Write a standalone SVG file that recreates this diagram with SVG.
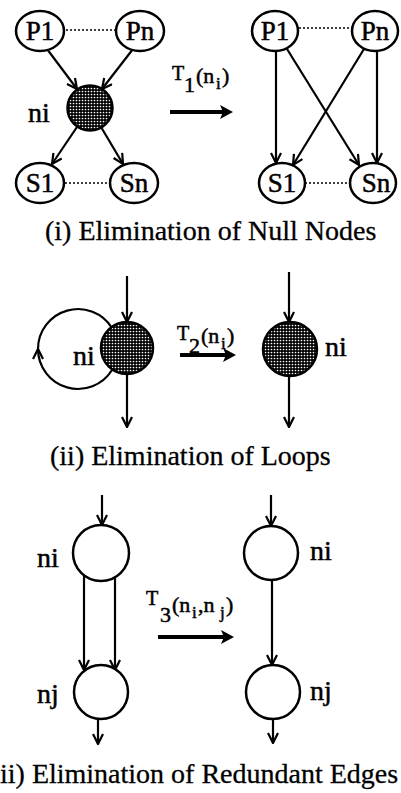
<svg xmlns="http://www.w3.org/2000/svg" width="401" height="793" viewBox="0 0 401 793">
<style>
  text { font-family: "Liberation Serif", "Times New Roman", serif; fill: #000; stroke: #000; stroke-width: 0.5; }
  .lbl { font-size: 27px; text-anchor: middle; }
  .nl { font-size: 28px; }
  .cap { font-size: 28px; stroke-width: 0.3; }
  .tb { font-size: 22px; }
  .tt { font-size: 20px; }
  .ts { font-size: 17px; }
  .node { fill: #fff; stroke: #000; stroke-width: 2.5; }
  .shade { fill: url(#dots); stroke: #000; stroke-width: 2.5; }
  .edge { fill: none; stroke: #000; stroke-width: 2.2; marker-end: url(#arr); }
  .plain { fill: none; stroke: #000; stroke-width: 2.2; }
  .dot { fill: none; stroke: #000; stroke-width: 1.5; stroke-dasharray: 2 2; }
  .big { fill: none; stroke: #000; stroke-width: 4; }
</style>
<defs>
  <pattern id="dots" width="3" height="3" patternUnits="userSpaceOnUse">
    <rect width="3" height="3" fill="#000"/>
    <circle cx="1.5" cy="1.5" r="0.85" fill="#fff"/>
  </pattern>
  <marker id="arr" viewBox="0 0 12 12" refX="11" refY="6" markerWidth="12" markerHeight="12" markerUnits="userSpaceOnUse" orient="auto">
    <path d="M1,1 L11,6 L1,11" fill="none" stroke="#000" stroke-width="2.2"/>
  </marker>
</defs>

<g id="connectors">
  <!-- part i left -->
  <line class="dot" x1="66" y1="30" x2="115" y2="30"/>
  <line class="dot" x1="65" y1="183" x2="110" y2="183"/>
  <line class="edge" x1="47" y1="49" x2="77" y2="89"/>
  <line class="edge" x1="133" y1="49" x2="102" y2="89"/>
  <line class="edge" x1="77" y1="127" x2="52" y2="164"/>
  <line class="edge" x1="101" y1="127" x2="123" y2="164"/>
  <!-- T1 -->
  <line class="big" x1="170" y1="112" x2="226" y2="112"/>
  <path d="M220,105 L233,112 L220,119 L223,112 Z" fill="#000"/>
  <!-- part i right -->
  <line class="dot" x1="299" y1="28" x2="352" y2="28"/>
  <line class="dot" x1="305" y1="183" x2="350" y2="183"/>
  <line class="edge" x1="276" y1="51" x2="276" y2="163"/>
  <line class="edge" x1="377" y1="51" x2="377" y2="163"/>
  <line class="edge" x1="287" y1="49" x2="359" y2="165"/>
  <line class="edge" x1="364" y1="49" x2="293" y2="165"/>
  <!-- part ii left -->
  <path class="edge" d="M112,370 A40,40 0 0,1 38,349"/>
  <path class="plain" d="M38,349 A40,40 0 0,1 112,328"/>
  <line class="edge" x1="127" y1="276" x2="127" y2="322"/>
  <line class="edge" x1="127" y1="374" x2="127" y2="427"/>
  <!-- T2 -->
  <line class="big" x1="180" y1="355" x2="229" y2="355"/>
  <path d="M223,348 L236,355 L223,362 L226,355 Z" fill="#000"/>
  <!-- part ii right -->
  <line class="edge" x1="289" y1="272" x2="289" y2="322"/>
  <line class="edge" x1="289" y1="376" x2="289" y2="427"/>
  <!-- part iii left -->
  <line class="edge" x1="102" y1="495" x2="102" y2="525"/>
  <line class="edge" x1="84" y1="575" x2="84" y2="670"/>
  <line class="edge" x1="115" y1="575" x2="115" y2="670"/>
  <line class="edge" x1="98" y1="719" x2="98" y2="744"/>
  <!-- T3 -->
  <line class="big" x1="158" y1="637" x2="227" y2="637"/>
  <path d="M221,630 L234,637 L221,644 L224,637 Z" fill="#000"/>
  <!-- part iii right -->
  <line class="edge" x1="271" y1="495" x2="271" y2="526"/>
  <line class="edge" x1="272" y1="580" x2="272" y2="665"/>
  <line class="edge" x1="273" y1="719" x2="273" y2="743"/>
</g>

<!-- part i left -->
<g id="P1a"><ellipse class="node" cx="40" cy="31" rx="24" ry="20"/><text class="lbl" x="40" y="40">P1</text></g>
<g id="Pna"><ellipse class="node" cx="140" cy="31" rx="24" ry="20"/><text class="lbl" x="140" y="40">Pn</text></g>
<g id="nia"><circle class="shade" cx="90" cy="108" r="22.5"/><text class="nl" x="28" y="122">ni</text></g>
<g id="S1a"><ellipse class="node" cx="40" cy="183" rx="24" ry="20"/><text class="lbl" x="40" y="192">S1</text></g>
<g id="Sna"><ellipse class="node" cx="134" cy="183" rx="24" ry="20"/><text class="lbl" x="134" y="192">Sn</text></g>

<g id="T1">
  <text class="tt" x="172" y="80">T</text>
  <text class="tb" x="184" y="92">1</text>
  <text class="tb" x="196" y="83">(n</text>
  <text class="ts" x="216" y="89">i</text>
  <text class="tb" x="222" y="83">)</text>
</g>

<!-- part i right -->
<g id="P1b"><ellipse class="node" cx="275" cy="31" rx="23" ry="20"/><text class="lbl" x="275" y="40">P1</text></g>
<g id="Pnb"><ellipse class="node" cx="375" cy="31" rx="23" ry="20"/><text class="lbl" x="375" y="40">Pn</text></g>
<g id="S1b"><ellipse class="node" cx="282" cy="183" rx="23" ry="20"/><text class="lbl" x="282" y="192">S1</text></g>
<g id="Snb"><ellipse class="node" cx="373" cy="183" rx="23" ry="20"/><text class="lbl" x="376" y="192">Sn</text></g>

<text class="cap" x="45" y="240">(i) Elimination of Null Nodes</text>

<!-- part ii -->
<g id="niL2"><circle class="shade" cx="127" cy="348" r="26"/><text class="nl" x="73" y="365">ni</text></g>
<g id="T2">
  <text class="tt" x="177" y="340">T</text>
  <text class="tb" x="189" y="353">2</text>
  <text class="tb" x="201" y="343">(n</text>
  <text class="ts" x="221" y="349">i</text>
  <text class="tb" x="227" y="343">)</text>
</g>
<g id="niR2"><circle class="shade" cx="290" cy="349" r="27"/><text class="nl" x="325" y="356">ni</text></g>

<text class="cap" x="50" y="465">(ii) Elimination of Loops</text>

<!-- part iii -->
<g id="niL3"><circle class="node" cx="101" cy="553" r="28"/><text class="nl" x="37" y="567">ni</text></g>
<g id="njL3"><circle class="node" cx="101" cy="692" r="27"/><text class="nl" x="37" y="703">nj</text></g>
<g id="T3">
  <text class="tt" x="146" y="605">T</text>
  <text class="tb" x="160" y="622">3</text>
  <text class="tb" x="172" y="612">(n</text>
  <text class="ts" x="192" y="618">i</text>
  <text class="tb" x="198" y="612">,n</text>
  <text class="ts" x="220" y="618">j</text>
  <text class="tb" x="226" y="612">)</text>
</g>
<g id="niR3"><circle class="node" cx="271" cy="553" r="27"/><text class="nl" x="310" y="560">ni</text></g>
<g id="njR3"><circle class="node" cx="273" cy="692" r="27"/><text class="nl" x="310" y="700">nj</text></g>

<text class="cap" x="0" y="783">ii) Elimination of Redundant Edges</text>
</svg>
